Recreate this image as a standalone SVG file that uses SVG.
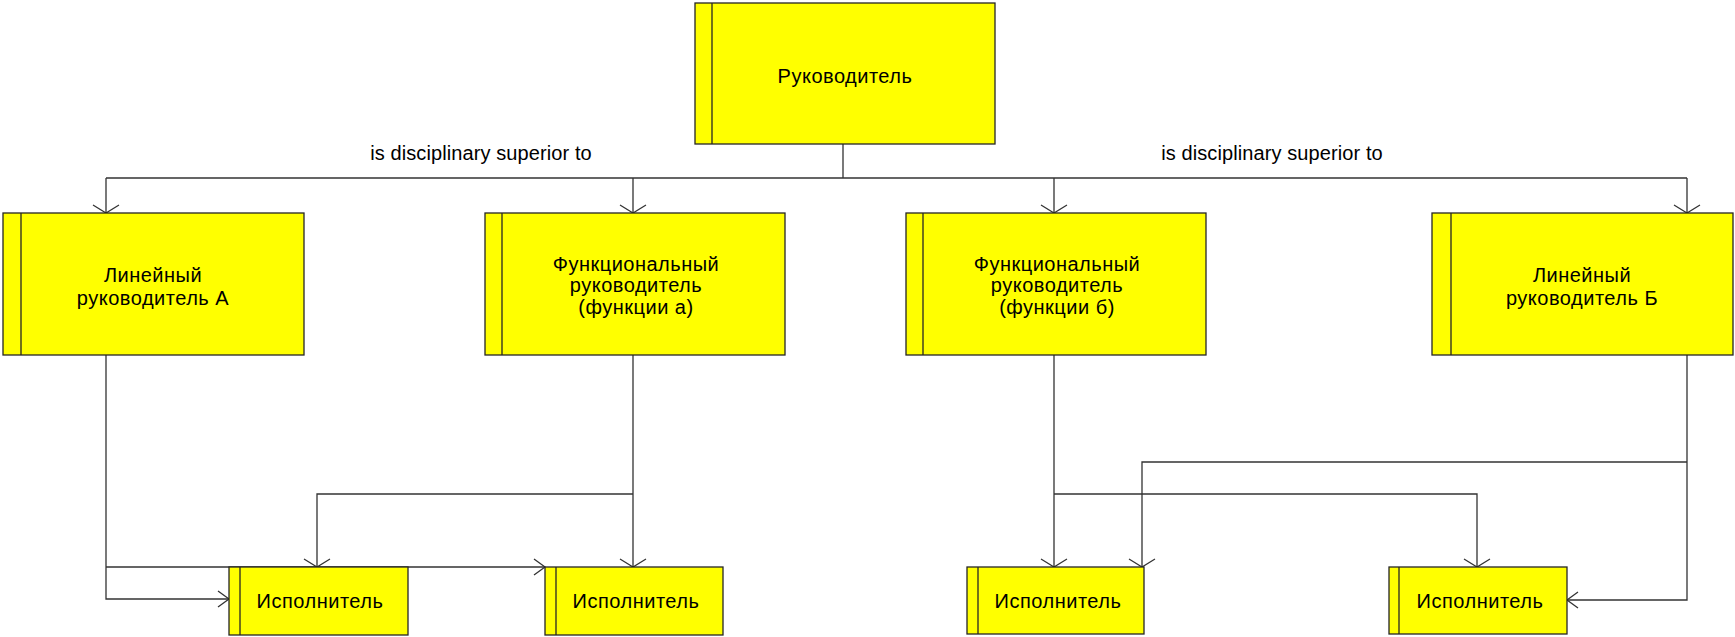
<svg xmlns="http://www.w3.org/2000/svg" width="1735" height="637" viewBox="0 0 1735 637">
  <style>
    .box { fill: #ffff00; stroke: #262626; stroke-width: 1.3; }
    .bar { stroke: #262626; stroke-width: 1.3; }
    .lbl { font-family: "Liberation Sans", Arial, sans-serif; font-size: 20px; fill: #000; text-anchor: middle; letter-spacing: 0.5px; }
    .rel { font-family: "Liberation Sans", Arial, sans-serif; font-size: 20px; fill: #000; text-anchor: middle; letter-spacing: 0.1px; }
    .wire { fill: none; stroke: #333; stroke-width: 1.3; }
    .head { fill: none; stroke: #333; stroke-width: 1.3; }
  </style>
  <rect width="1735" height="637" fill="#ffffff"/>

  <!-- connectors -->
  <g id="connectors">
    <!-- top bus -->
    <path class="wire" d="M843 144 V178 M106 178 H1687 M106 178 V213 M633 178 V213 M1054 178 V213 M1687 178 V213"/>
    <!-- Линейный руководитель А -->
    <path class="wire" d="M106 355 V599 H229 M106 567 H545"/>
    <!-- Функциональный руководитель (а) -->
    <path class="wire" d="M633 355 V567 M633 494 H317 V567"/>
    <!-- Функциональный руководитель (б) -->
    <path class="wire" d="M1054 355 V567 M1054 494 H1477 V567"/>
    <!-- Линейный руководитель Б -->
    <path class="wire" d="M1687 355 V600 H1567 M1687 462 H1142 V567"/>
    <!-- open arrowheads -->
    <path class="head" d="M93 205 L106 213 L119 205 M620 205 L633 213 L646 205 M1041 205 L1054 213 L1067 205 M1674 205 L1687 213 L1700 205"/>
    <path class="head" d="M304 559 L317 567 L330 559 M620 559 L633 567 L646 559 M1041 559 L1054 567 L1067 559 M1129 559 L1142 567 L1155 559 M1464 559 L1477 567 L1490 559"/>
    <path class="head" d="M218 591 L229 599 L218 607 M534 559 L545 567 L534 575"/>
    <path class="head" d="M1578 592 L1567 600 L1578 608"/>
  </g>

  <g id="node-head">
    <rect class="box" x="695" y="3" width="300" height="141"/>
    <line class="bar" x1="712" y1="3" x2="712" y2="144"/>
    <text class="lbl" x="845" y="83">Руководитель</text>
  </g>

  <g id="node-line-a">
    <rect class="box" x="3" y="213" width="301" height="142"/>
    <line class="bar" x1="21" y1="213" x2="21" y2="355"/>
    <text class="lbl" x="153" y="282">Линейный</text>
    <text class="lbl" x="153" y="305">руководитель А</text>
  </g>

  <g id="node-func-a">
    <rect class="box" x="485" y="213" width="300" height="142"/>
    <line class="bar" x1="502" y1="213" x2="502" y2="355"/>
    <text class="lbl" x="636" y="271">Функциональный</text>
    <text class="lbl" x="636" y="292">руководитель</text>
    <text class="lbl" x="636" y="314">(функции а)</text>
  </g>

  <g id="node-func-b">
    <rect class="box" x="906" y="213" width="300" height="142"/>
    <line class="bar" x1="923" y1="213" x2="923" y2="355"/>
    <text class="lbl" x="1057" y="271">Функциональный</text>
    <text class="lbl" x="1057" y="292">руководитель</text>
    <text class="lbl" x="1057" y="314">(функции б)</text>
  </g>

  <g id="node-line-b">
    <rect class="box" x="1432" y="213" width="301" height="142"/>
    <line class="bar" x1="1451" y1="213" x2="1451" y2="355"/>
    <text class="lbl" x="1582" y="282">Линейный</text>
    <text class="lbl" x="1582" y="305">руководитель Б</text>
  </g>

  <g id="node-exec-1">
    <rect class="box" x="229" y="567" width="179" height="68"/>
    <line class="bar" x1="240" y1="567" x2="240" y2="635"/>
    <text class="lbl" x="320" y="608">Исполнитель</text>
  </g>

  <g id="node-exec-2">
    <rect class="box" x="545" y="567" width="178" height="68"/>
    <line class="bar" x1="556" y1="567" x2="556" y2="635"/>
    <text class="lbl" x="636" y="608">Исполнитель</text>
  </g>

  <g id="node-exec-3">
    <rect class="box" x="967" y="567" width="177" height="67"/>
    <line class="bar" x1="978" y1="567" x2="978" y2="634"/>
    <text class="lbl" x="1058" y="608">Исполнитель</text>
  </g>

  <g id="node-exec-4">
    <rect class="box" x="1389" y="567" width="178" height="67"/>
    <line class="bar" x1="1399" y1="567" x2="1399" y2="634"/>
    <text class="lbl" x="1480" y="608">Исполнитель</text>
  </g>

  <!-- relation labels -->
  <g id="labels">
    <text class="rel" x="481" y="160">is disciplinary superior to</text>
    <text class="rel" x="1272" y="160">is disciplinary superior to</text>
  </g>
</svg>
